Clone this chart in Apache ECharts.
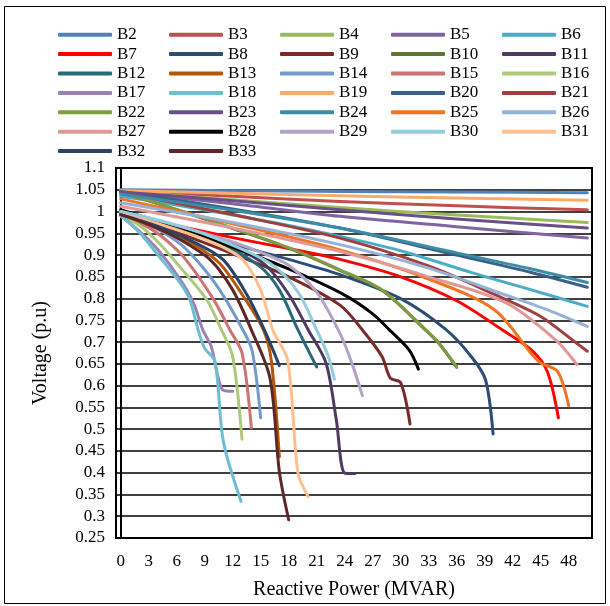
<!DOCTYPE html>
<html>
<head>
<meta charset="utf-8">
<script src="https://cdn.jsdelivr.net/npm/echarts@6/dist/echarts.min.js"></script>
<style>
  html, body { margin: 0; padding: 0; background: #fff; }
  #chart { width: 610px; height: 606px; }
</style>
</head>
<body>
<div id="chart"></div>
<script>
// x tick labels (MVAR), shown every 3
var xCats = [];
for (var i = 0; i <= 50; i++) xCats.push(String(i));

var busNames = ['B2','B3','B4','B5','B6','B7','B8','B9','B10','B11','B12','B13','B14','B15','B16','B17',
  'B18','B19','B20','B21','B22','B23','B24','B25','B26','B27','B28','B29','B30','B31','B32','B33'];

var busColors = ['#4F81BD','#C0504D','#9BBB59','#8064A2','#4BACC6','#FF0000','#2C4D75','#772C2A','#5F7530','#4D3B62',
  '#276A7C','#B65708','#729ACA','#CD7371','#AFC97A','#9983B5','#6FBDD1','#F9AB6B','#3A5F8B','#A03F3C',
  '#7F9C45','#684F8A','#3B8CA5','#F37320','#95B3D7','#DF9A98','#000000','#B3A2C7','#93CDDD','#FFBF8F',
  '#2A4365','#5E2725'];

// [Q (MVAR), V (p.u)]
var b2  = [[0,1.05],[12,1.048],[23.5,1.046],[36,1.045],[50,1.043]];
var b3  = [[0,1.047],[12,1.035],[23.5,1.023],[36,1.013],[50,1.004]];
var b4  = [[0,1.046],[12,1.027],[23.5,1.009],[36,0.992],[50,0.975]];
var b5  = [[0,1.045],[12,1.018],[23.5,0.989],[36,0.965],[50,0.939]];
var b6  = [[0,1.035],[6,1.015],[12,0.992],[18,0.968],[23.5,0.943],[30,0.91],[37.7,0.859],[44,0.82],[50,0.782]];
var b7  = [[0,0.995],[5,0.972],[12,0.94],[18,0.915],[23.5,0.89],[30,0.85],[36,0.795],[40.9,0.728],[44,0.682],[45.7,0.633],[46.9,0.526]];
var b8  = [[0,1.0],[6,0.96],[12,0.925],[18,0.89],[23.5,0.855],[30,0.8],[34.9,0.728],[37.7,0.663],[39.1,0.613],[39.9,0.489]];
var b9  = [[0,0.998],[6,0.952],[12,0.903],[18,0.85],[23.5,0.785],[25.9,0.728],[28,0.667],[28.9,0.617],[30,0.607],[31,0.512]];
var b10 = [[0,1.044],[6,1.004],[12,0.961],[18,0.916],[23.5,0.865],[28,0.819],[32.7,0.727],[34.1,0.697],[36,0.642]];
var b11 = [[0,1.0],[5,0.973],[10,0.938],[15.3,0.881],[18,0.81],[20.1,0.728],[22,0.652],[23.1,0.522],[24,0.399],[25.1,0.398]];
var b12 = [[0,1.0],[5,0.972],[10,0.935],[14.9,0.874],[17,0.82],[19,0.728],[21,0.643]];
var b13 = [[0,0.995],[4,0.966],[8,0.922],[10.6,0.881],[13,0.81],[15.3,0.728],[16.15,0.656],[17,0.437]];
var b14 = [[0,0.995],[3,0.97],[6,0.932],[8.1,0.889],[10.6,0.82],[13.1,0.728],[14.1,0.679],[15,0.526]];
var b15 = [[0,0.993],[3,0.963],[5,0.932],[7,0.889],[9.9,0.8],[11.7,0.728],[13,0.675],[14,0.503]];
var b16 = [[0,0.99],[2,0.968],[4,0.93],[6.3,0.874],[9.2,0.798],[10.8,0.728],[12,0.667],[13,0.477]];
var b17 = [[0,0.99],[2,0.955],[4,0.912],[6.4,0.843],[7.8,0.79],[8.8,0.728],[9.7,0.69],[10.9,0.591],[12,0.587]];
var b18 = [[0,0.99],[2,0.952],[4,0.9],[6.4,0.835],[7.4,0.798],[8.3,0.728],[9,0.686],[10.1,0.656],[11,0.472],[12.9,0.334]];
var b19 = [[0,1.048],[12,1.042],[23.5,1.036],[36,1.031],[50,1.026]];
var b20 = [[0,1.046],[12,1.006],[23.5,0.962],[36,0.9],[44,0.86],[50,0.826]];
var b21 = [[0,1.045],[12,0.993],[23.5,0.939],[33,0.875],[40,0.81],[45,0.759],[48.4,0.705],[50,0.679]];
var b22 = [[0,1.045],[6,1.005],[12,0.962],[18,0.917],[23.5,0.866],[28,0.82],[32.7,0.728],[34.1,0.698],[36,0.643]];
var b23 = [[0,1.045],[12,1.025],[23.5,1.004],[36,0.983],[50,0.962]];
var b24 = [[0,1.04],[12,1.003],[23.5,0.962],[36,0.905],[44,0.868],[50,0.837]];
var b25 = [[0,1.029],[12,0.972],[23.5,0.912],[33,0.845],[40,0.775],[44.1,0.671],[45,0.652],[46.8,0.633],[48,0.554]];
var b26 = [[0,1.02],[12,0.975],[23.5,0.924],[33,0.87],[41,0.81],[46,0.772],[50,0.736]];
var b27 = [[0,1.012],[12,0.962],[23.5,0.908],[33,0.85],[41.3,0.79],[46.6,0.705],[48.9,0.648]];
var b28 = [[0,1.004],[6,0.963],[12,0.918],[18,0.868],[24,0.808],[27,0.765],[28.8,0.728],[30.9,0.682],[31.9,0.638]];
var b29 = [[0,1.0],[6,0.968],[12,0.93],[15.5,0.902],[18.1,0.875],[21,0.815],[23.5,0.72],[24.8,0.65],[25.9,0.577]];
var b30 = [[0,1.0],[5,0.975],[10,0.94],[16,0.881],[19,0.815],[21,0.728],[22.2,0.67],[22.9,0.615]];
var b31 = [[0,0.995],[4,0.972],[8,0.944],[11,0.918],[13.1,0.889],[15,0.82],[16.3,0.728],[17.9,0.657],[19,0.399],[20.1,0.345]];
var b32 = [[0,0.993],[4,0.966],[8,0.928],[11,0.889],[13.5,0.81],[15.4,0.728],[17,0.646]];
var b33 = [[0,0.993],[3,0.97],[6,0.94],[9.6,0.889],[12,0.82],[14,0.728],[16,0.617],[17,0.403],[18,0.292]];

var busData = [b2,b3,b4,b5,b6,b7,b8,b9,b10,b11,b12,b13,b14,b15,b16,b17,b18,
  b19,b20,b21,b22,b23,b24,b25,b26,b27,b28,b29,b30,b31,b32,b33];

var font = 'Liberation Serif, Times New Roman, serif';

var series = busNames.map(function (name, i) {
  return {
    name: name,
    type: 'line',
    xAxisIndex: 1,
    yAxisIndex: 0,
    data: busData[i],
    showSymbol: false,
    smooth: 0.3,
    color: busColors[i],
    lineStyle: { width: 3, color: busColors[i], cap: 'round', join: 'round' },
    emphasis: { disabled: true },
    animation: false
  };
});

// legend in 5 columns
var legendCols = [53, 164, 275, 386, 497];
var legends = legendCols.map(function (left, c) {
  return {
    orient: 'vertical',
    left: left,
    top: 20,
    itemGap: 0,
    itemWidth: 54,
    itemHeight: 4,
    icon: 'roundRect',
    textStyle: { fontFamily: font, fontSize: 17, color: '#000', lineHeight: 19.4 },
    data: busNames.filter(function (n, i) { return i % 5 === c; })
  };
});

var chart = echarts.init(document.getElementById('chart'));
chart.setOption({
  animation: false,
  legend: legends,
  grid: { left: 116, right: 18, top: 168, bottom: 68 },
  xAxis: [
    {
      type: 'category',
      data: xCats,
      boundaryGap: true,
      name: 'Reactive Power (MVAR)',
      nameLocation: 'middle',
      nameGap: 42,
      nameTextStyle: { fontFamily: font, fontSize: 20, color: '#000' },
      axisLine: { show: true, lineStyle: { color: '#000', width: 2 } },
      axisTick: { show: false },
      axisLabel: { interval: 2, margin: 15, fontFamily: font, fontSize: 17, color: '#000' },
      splitLine: { show: false }
    },
    {
      type: 'value',
      min: -0.5,
      max: 50.5,
      show: false
    }
  ],
  yAxis: {
    type: 'value',
    min: 0.25,
    max: 1.1,
    interval: 0.05,
    name: 'Voltage (p.u)',
    nameLocation: 'middle',
    nameGap: 65,
    nameTextStyle: { fontFamily: font, fontSize: 20, color: '#000' },
    axisLine: { show: true, lineStyle: { color: '#000', width: 2 } },
    axisTick: { show: false },
    axisLabel: {
      margin: 11, fontFamily: font, fontSize: 17, color: '#000',
      formatter: function (v) { return String(+v.toFixed(2)); }
    },
    splitLine: { show: true, lineStyle: { color: '#000', width: 1.5 } }
  },
  graphic: [{
    type: 'rect',
    shape: { x: 4.5, y: 6.5, width: 601, height: 597 },
    style: { fill: null, stroke: '#000', lineWidth: 1 },
    silent: true
  }, {
    type: 'rect',
    shape: { x: 116, y: 168, width: 476, height: 370 },
    style: { fill: null, stroke: '#000', lineWidth: 2 },
    silent: true
  }],
  series: series
});
</script>
</body>
</html>
